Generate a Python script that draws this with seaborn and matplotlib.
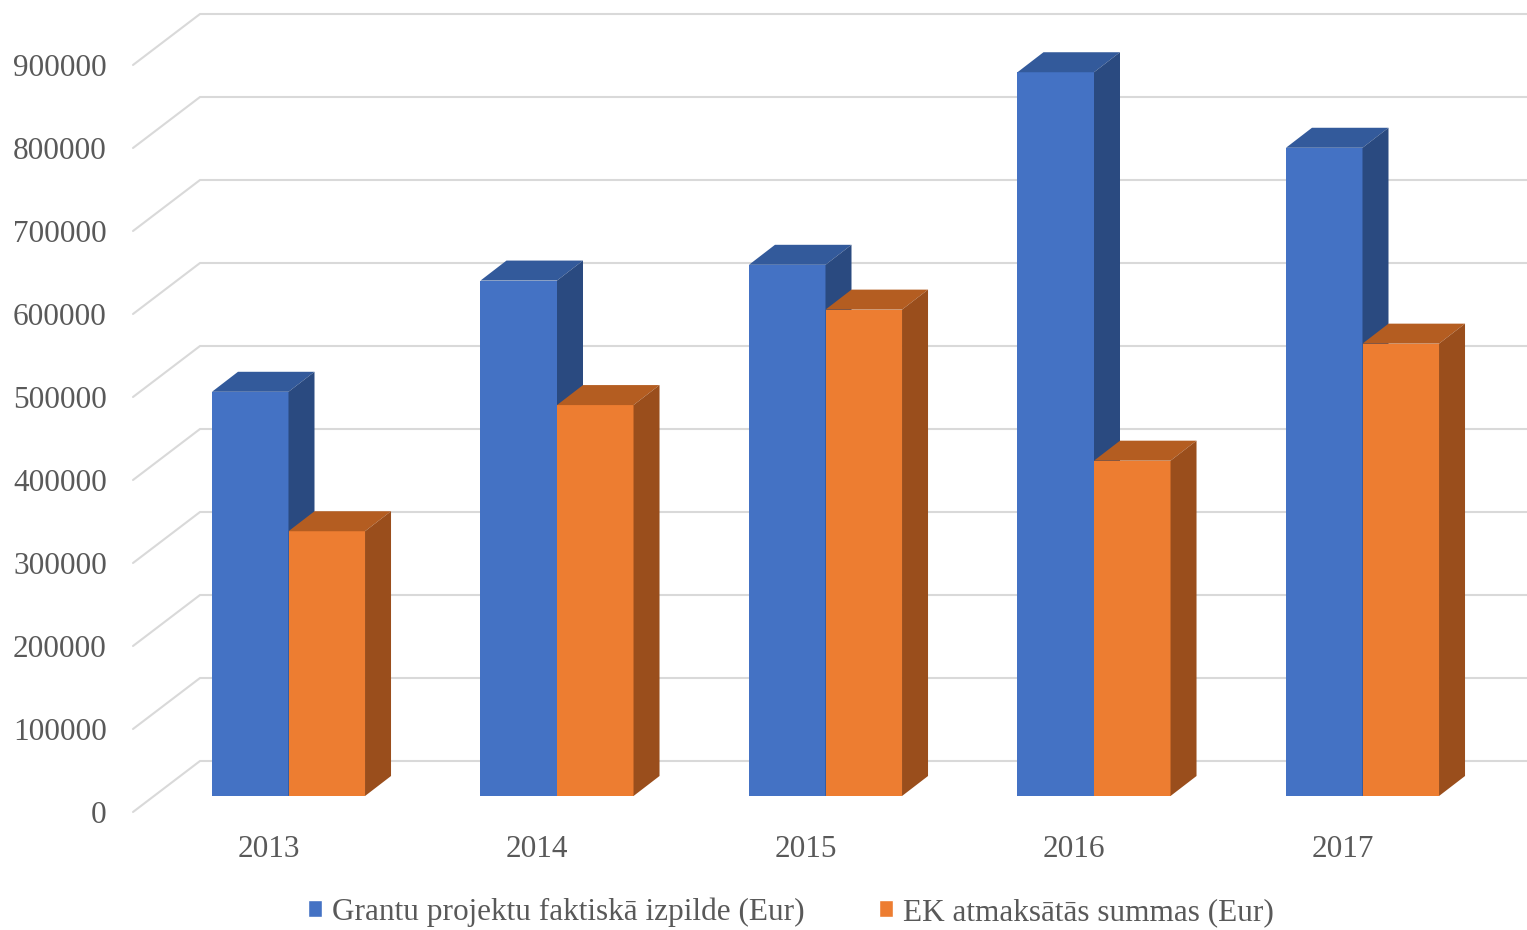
import matplotlib
matplotlib.use("Agg")
import matplotlib.pyplot as plt
import matplotlib.transforms as mtransforms
from matplotlib.patches import Polygon
import pandas as pd
import seaborn as sns

years = ["2013", "2014", "2015", "2016", "2017"]
grantu = [487000, 621000, 640000, 872000, 781000]
ek = [319000, 471000, 586000, 404000, 545000]
series = ["Grantu projektu faktiskā izpilde (Eur)", "EK atmaksātās summas (Eur)"]
yticks = [0, 100000, 200000, 300000, 400000, 500000, 600000, 700000, 800000, 900000]

front = ["#4472C4", "#ED7D31"]
top = ["#335A9B", "#B45D21"]
side = ["#2A4A80", "#9A4E1C"]
grid_col = "#D9D9D9"
text_col = "#595959"

sns.set_style("white")
plt.rcParams["font.family"] = ["Liberation Serif", "DejaVu Serif"]

df = pd.DataFrame({
    "year": years * 2,
    "value": grantu + ek,
    "series": [series[0]] * len(years) + [series[1]] * len(years),
})

W, H, DPI = 1527, 930, 100
fig = plt.figure(figsize=(W / DPI, H / DPI), dpi=DPI)

# axes = front plane of the bars (pixels)
px_left, px_right, px_bottom, px_top = 154, 1481, 796, 49
ax = fig.add_axes([px_left / W, 1 - px_bottom / H,
                   (px_right - px_left) / W, (px_bottom - px_top) / H])

sns.barplot(data=df, x="year", y="value", hue="series", palette=front,
            width=0.57, gap=0, saturation=1, ax=ax, legend=True)

cat_px = 268.5
x0 = (px_left - 288.5) / cat_px
x1 = (px_right - 288.5) / cat_px
ax.set_xlim(x0, x1)
ax.set_ylim(0, 900000)
sx = 1 / cat_px                 # data units per pixel, x
sy = 900000 / (px_bottom - px_top)  # data units per pixel, y

# pseudo-3D gridlines: front floor edge -> back wall -> right
for v in yticks:
    xs = [x0 - 21 * sx, x0 + 46 * sx, x1 + 200 * sx]
    ys = [v - 16 * sy, v + 35 * sy, v + 35 * sy]
    ax.plot(xs, ys, color=grid_col, lw=1.5, zorder=0.5, clip_on=False)

# depth faces of bars
dx, dy = 26 * sx, 20 * sy
for p in ax.patches:
    h = p.get_height()
    if h <= 0:
        continue
    fc = matplotlib.colors.to_hex(p.get_facecolor())
    k = 0 if fc.lower() == front[0].lower() else 1
    z = 2 + k
    p.set_zorder(z)
    p.set_edgecolor("none")
    a = p.get_x()
    b = a + p.get_width()
    ax.add_patch(Polygon([(a, h), (b, h), (b + dx, h + dy), (a + dx, h + dy)],
                         closed=True, facecolor=top[k], edgecolor="none",
                         zorder=z, clip_on=False))
    ax.add_patch(Polygon([(b, 0), (b, h), (b + dx, h + dy), (b + dx, dy)],
                         closed=True, facecolor=side[k], edgecolor="none",
                         zorder=z, clip_on=False))

sns.despine(ax=ax, left=True, bottom=True)
ax.set_xlabel("")
ax.set_ylabel("")
ax.set_yticks(yticks)
ax.set_yticklabels([str(v) for v in yticks])
ax.tick_params(axis="y", length=0, pad=34, labelsize=22.5, labelcolor=text_col)
ax.tick_params(axis="x", length=0, pad=28, labelsize=22.5, labelcolor=text_col)

for lab in ax.get_yticklabels():
    lab.set_transform(lab.get_transform()
                      + mtransforms.ScaledTranslation(0, -16 / DPI, fig.dpi_scale_trans))
for lab in ax.get_xticklabels():
    lab.set_transform(lab.get_transform()
                      + mtransforms.ScaledTranslation(-20 / DPI, 0, fig.dpi_scale_trans))

sns.move_legend(ax, "center", bbox_to_anchor=(791 / W, 1 - 912 / H),
                bbox_transform=fig.transFigure, ncol=2, frameon=False,
                title=None, fontsize=22.5, handlelength=0.45, handleheight=0.45,
                handletextpad=0.3, columnspacing=2.4)
for t in ax.get_legend().get_texts():
    t.set_color(text_col)

fig.savefig("out.png", dpi=DPI)
